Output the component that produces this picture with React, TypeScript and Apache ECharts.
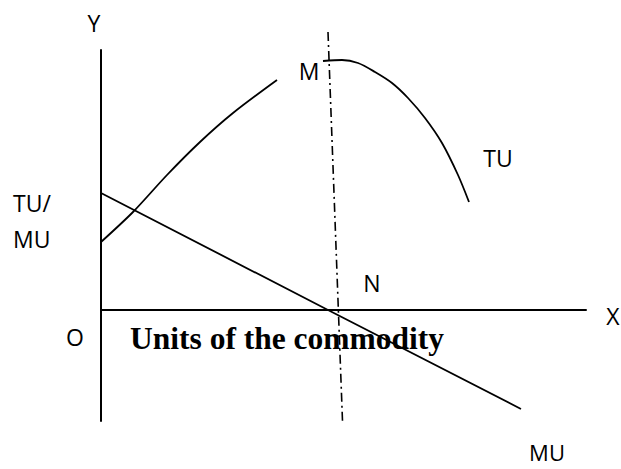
import React, { useEffect, useRef } from "react";
import * as echarts from "echarts";

// Data in diagram units (1 unit = 10 px), origin at the axes' crossing point O
const muLine: number[][] = [[0, 11.7], [22.7, 0], [42.0, -9.9]];
const tuRising: number[][] = [[0, 6.8], [3.2, 9.8], [6.6, 13.5], [9.9, 16.8], [13.2, 19.7], [17.6, 23.0]];
const tuFalling: number[][] = [
  [22.2, 24.9], [24.1, 25.0], [25.7, 24.7], [27.4, 23.8], [29.1, 22.7],
  [30.7, 21.2], [32.4, 19.2], [34.1, 16.7], [35.7, 13.5], [36.8, 10.8],
];
const dashLine: number[][] = [[22.7, 27.8], [24.15, -11.1]];

const labelFont = "'Open Sans', 'Noto Sans', sans-serif";

export default function App() {
  const ref = useRef<HTMLDivElement>(null);
  useEffect(() => {
    document.body.style.margin = "0";
    const chart = echarts.init(ref.current!, null, { renderer: "svg" });
    const txt = (text: string, x: number, y: number, extra: any = {}) => ({
      type: "text",
      x,
      y,
      style: {
        text,
        fill: "#000",
        font: `23px ${labelFont}`,
        align: "center",
        verticalAlign: "middle",
        ...extra,
      },
    });
    chart.setOption({
      animation: false,
      backgroundColor: "#fff",
      grid: { left: 101, top: 50, width: 485, height: 371 },
      xAxis: {
        type: "value",
        min: 0,
        max: 48.5,
        axisLine: { show: true, onZero: true, lineStyle: { color: "#000", width: 2 } },
        axisTick: { show: false },
        axisLabel: { show: false },
        splitLine: { show: false },
      },
      yAxis: {
        type: "value",
        min: -11.1,
        max: 26.0,
        axisLine: { show: true, onZero: false, lineStyle: { color: "#000", width: 2 } },
        axisTick: { show: false },
        axisLabel: { show: false },
        splitLine: { show: false },
      },
      series: [
        {
          name: "MU",
          type: "line",
          data: muLine,
          symbol: "none",
          lineStyle: { color: "#000", width: 1.8 },
        },
        {
          name: "TU rising",
          type: "line",
          data: tuRising,
          smooth: 0.3,
          symbol: "none",
          lineStyle: { color: "#000", width: 1.8 },
        },
        {
          name: "TU falling",
          type: "line",
          data: tuFalling,
          smooth: 0.3,
          symbol: "none",
          lineStyle: { color: "#000", width: 1.8 },
        },
        {
          name: "max",
          type: "line",
          data: dashLine,
          symbol: "none",
          clip: false,
          lineStyle: { color: "#000", width: 1.6, type: [9, 4, 2, 4] },
        },
      ],
      graphic: [
        txt("Y", 94, 23),
        txt("M", 309, 71),
        txt("TU", 498, 158),
        txt("TU/", 13, 203, { align: "left" }),
        txt("MU", 13, 239, { align: "left" }),
        txt("N", 372, 283),
        txt("X", 613, 316),
        txt("O", 75, 337),
        txt("MU", 547, 452, { font: `22px ${labelFont}` }),
        {
          type: "text",
          x: 130,
          y: 338,
          style: {
            text: "Units of the commodity",
            fill: "#000",
            font: "bold 31.5px 'Liberation Serif', 'Times New Roman', serif",
            align: "left",
            verticalAlign: "middle",
          },
        },
      ],
    });
    return () => chart.dispose();
  }, []);
  return <div ref={ref} style={{ width: 621, height: 469 }} />;
}
